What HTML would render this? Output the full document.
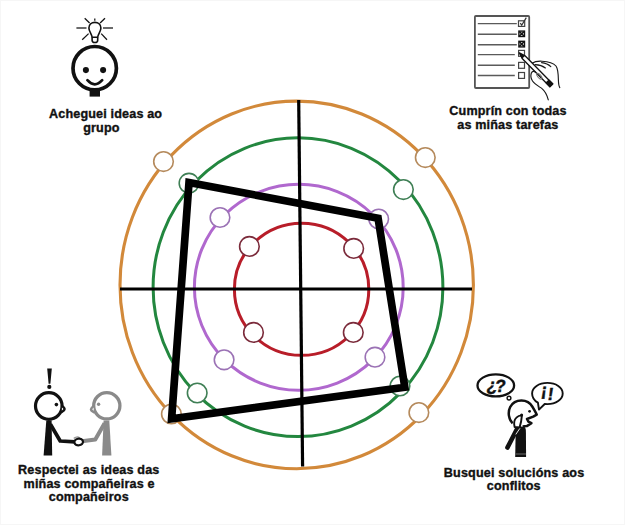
<!DOCTYPE html>
<html><head><meta charset="utf-8">
<style>
html,body{margin:0;padding:0;background:#fff;}
body{width:625px;height:525px;overflow:hidden;position:relative;}
svg{position:absolute;left:0;top:0;}
.t{font-family:"Liberation Sans",sans-serif;font-weight:bold;font-size:12px;letter-spacing:0.15px;fill:#111;stroke:#111;stroke-width:0.35px;}
</style></head><body>
<svg width="625" height="525" viewBox="0 0 625 525">
<!-- faint border -->
<rect x="0.5" y="0.5" width="624" height="524" fill="none" stroke="#f6f6f6" stroke-width="1"/>

<!-- rings -->
<g fill="none">
<ellipse cx="296.7" cy="284.9" rx="176.7" ry="183.8" stroke="#D2893A" stroke-width="3.1"/>
<ellipse cx="298" cy="287.2" rx="144.9" ry="149.4" stroke="#23873F" stroke-width="3"/>
<ellipse cx="298.8" cy="287.3" rx="104.4" ry="103" stroke="#B068CE" stroke-width="3"/>
<ellipse cx="301.6" cy="289.25" rx="67.2" ry="66.1" stroke="#B81D29" stroke-width="3"/>
</g>
<!-- axes -->
<line x1="120" y1="289" x2="472" y2="289" stroke="#000" stroke-width="3"/>
<path d="M298.7 100 L302.6 466.4" stroke="#000" stroke-width="3.2" fill="none"/>

<!-- small circles -->
<g fill="#fff" stroke-width="1.6">
<g stroke="#B58A5C">
<circle cx="163.5" cy="161.6" r="9.8"/>
<circle cx="425.3" cy="157.6" r="9.8"/>
<circle cx="171.4" cy="414" r="9.8"/>
<circle cx="418.9" cy="412.6" r="9.8"/>
</g>
<g stroke="#3F7F55">
<circle cx="189" cy="183.2" r="9.8"/>
<circle cx="403.4" cy="189.6" r="9.8"/>
<circle cx="197.2" cy="393" r="9.8"/>
<circle cx="400" cy="386" r="9.8"/>
</g>
<g stroke="#9B72B5">
<circle cx="220" cy="217.5" r="9.8"/>
<circle cx="378.7" cy="219" r="9.8"/>
<circle cx="224.1" cy="359.8" r="9.8"/>
<circle cx="375" cy="357.2" r="9.8"/>
</g>
<g stroke="#7B2B3B">
<circle cx="249.4" cy="246.4" r="9.8"/>
<circle cx="353.7" cy="248.4" r="9.8"/>
<circle cx="253.5" cy="332.4" r="9.8"/>
<circle cx="353.3" cy="332.4" r="9.8"/>
</g>
</g>

<!-- polygon -->
<path d="M189 182.5 L378.1 218.3 L404.8 387.2 L171.6 418.8 Z" fill="none" stroke="#000" stroke-width="7.7" stroke-linejoin="miter"/>

<!-- texts -->
<text class="t" x="105.6" y="117.8" text-anchor="middle" transform="translate(105.6 0) scale(1.05 1) translate(-105.6 0)">Acheguei ideas ao</text>
<text class="t" x="101.4" y="132" text-anchor="middle" transform="translate(101.4 0) scale(1.05 1) translate(-101.4 0)">grupo</text>
<text class="t" x="508" y="115.4" text-anchor="middle" transform="translate(508 0) scale(1.05 1) translate(-508 0)">Cumprín con todas</text>
<text class="t" x="507.9" y="129.3" text-anchor="middle" transform="translate(507.9 0) scale(1.05 1) translate(-507.9 0)">as miñas tarefas</text>
<text class="t" x="88.8" y="474.5" text-anchor="middle" transform="translate(88.8 0) scale(1.05 1) translate(-88.8 0)">Respectei as ideas das</text>
<text class="t" x="89.1" y="487.8" text-anchor="middle" transform="translate(89.1 0) scale(1.05 1) translate(-89.1 0)">miñas compañeiras e</text>
<text class="t" x="88.8" y="500.6" text-anchor="middle" transform="translate(88.8 0) scale(1.05 1) translate(-88.8 0)">compañeiros</text>
<text class="t" x="514.1" y="476.8" text-anchor="middle" transform="translate(514.1 0) scale(1.05 1) translate(-514.1 0)">Busquei solucións aos</text>
<text class="t" x="513.75" y="489.6" text-anchor="middle" transform="translate(513.75 0) scale(1.05 1) translate(-513.75 0)">conflitos</text>

<!-- ICON 1: bulb + face -->
<g stroke="#111" fill="none" stroke-linecap="butt">
<g stroke-width="1.25">
<line x1="76.4" y1="28" x2="86.5" y2="28"/>
<line x1="103" y1="28" x2="113" y2="28"/>
<line x1="84.7" y1="18.2" x2="89.6" y2="23"/>
<line x1="105" y1="18.2" x2="100.1" y2="23"/>
<line x1="82.2" y1="39.8" x2="88.6" y2="33.6"/>
<line x1="107" y1="39.8" x2="101.2" y2="33.6"/>
<line x1="94.8" y1="18.4" x2="94.8" y2="20.8"/>
</g>
<path d="M92.1 37.2 C91.6 33.6 88.9 31.4 88.9 27.9 C88.9 24.6 91.6 22.4 94.9 22.4 C98.2 22.4 100.9 24.6 100.9 27.9 C100.9 31.4 98.2 33.6 97.7 37.2 Z" stroke-width="1.6"/>
<path d="M92.1 37.4 L92.1 40.2 C92.1 41.9 93.3 42.5 94.9 42.5 C96.5 42.5 97.7 41.9 97.7 40.2 L97.7 37.4" stroke-width="1.6"/>
</g>
<circle cx="94.7" cy="68.2" r="21.7" fill="#fff" stroke="#111" stroke-width="3.7"/>
<rect x="89.6" y="89.8" width="10.4" height="6.8" fill="#111"/>
<circle cx="85.9" cy="70.1" r="3.05" fill="#111"/>
<circle cx="103.1" cy="70.1" r="3.05" fill="#111"/>
<path d="M87.4 80.2 Q94.7 88.4 102.2 80.2" fill="none" stroke="#111" stroke-width="2.7" stroke-linecap="round"/>

<!-- ICON 2: checklist -->
<g fill="none">
<rect x="474.9" y="16" width="54.3" height="72" rx="1" stroke="#555" stroke-width="1.8"/>
<g stroke-width="1.4" stroke="#5a5a5a">
<line x1="477.8" y1="23.6" x2="516.8" y2="23.6"/>
<line x1="477.8" y1="34.2" x2="516.8" y2="34.2"/>
<line x1="477.8" y1="44.7" x2="516.8" y2="44.7"/>
<line x1="477.8" y1="54.6" x2="514.8" y2="54.6"/>
<line x1="477.8" y1="65.2" x2="514.8" y2="65.2"/>
<line x1="477.8" y1="75.5" x2="514.8" y2="75.5"/>
</g>
<g stroke-width="1.2" stroke="#444">
<rect x="518.5" y="20.8" width="6.2" height="5.6"/>
<rect x="518.6" y="50.4" width="5.9" height="5.9"/>
<rect x="518.6" y="62.4" width="5.9" height="5.9"/>
<rect x="518.6" y="72.5" width="5.9" height="5.9"/>
</g>
<path d="M520.3 23.2 L521.7 25.2 L526.3 17.6" stroke="#333" stroke-width="1.2"/>
<g stroke-width="1.5" stroke="#111">
<rect x="518.9" y="31.1" width="5.6" height="5.4" stroke-width="1.4"/>
<rect x="518.9" y="41.3" width="5.6" height="5.6" stroke-width="1.4"/>
<path d="M519.4 31.6 L524 36 M524 31.6 L519.4 36"/>
<path d="M519.4 41.8 L524 46.4 M524 41.8 L519.4 46.4"/>
</g>
</g>
<!-- hand back layer -->
<g fill="none" stroke="#1a1a1a" stroke-width="1.15" stroke-linecap="round">
<path d="M532 63.3 C534.5 61.6 538.5 61 542 61.2 C548 61.5 553 62.5 556 66 C558.2 69 558.3 75 558.4 80 C558.5 84 558.8 86 559.8 87.6"/>
<path d="M535.2 64.6 C539 64.8 542.8 66 545.4 68"/>
<path d="M541.6 62.6 C545.2 63 548.6 64.4 550.8 66.6"/>
</g>
<!-- pen -->
<g transform="translate(519.4 52.9) rotate(45.45)">
<path d="M0 0 L6 -2 L45.5 -2 L45.5 2 L6 2 Z" fill="#fff" stroke="#111" stroke-width="1.3" stroke-linejoin="round"/>
<path d="M0 0 L6 -2.2 L6 2.2 Z" fill="#111"/>
<rect x="39.5" y="-2.6" width="6.5" height="5.2" fill="#111"/>
</g>
<!-- thumb front -->
<g fill="none" stroke="#1a1a1a" stroke-width="1.15" stroke-linecap="round">
<path d="M535.6 72.2 C534 70.8 532 71.2 531.3 73.2 C530.6 75.5 530.8 78.6 532.5 81 C535 84.5 539 86.5 542 88.6 C545 91 547 95 548.3 99.8"/>
<ellipse cx="539.3" cy="76.2" rx="1.6" ry="3.6" transform="rotate(-40 539.3 76.2)" stroke="#777" stroke-width="1"/>
</g>

<!-- ICON 3: handshake -->
<g>
<path d="M47.2 368.6 L51.8 368.6 L50.4 383.8 L48.6 383.8 Z" fill="#111"/>
<circle cx="49.3" cy="386.9" r="2.1" fill="#111"/>
<circle cx="48.8" cy="406" r="13.3" fill="#fff" stroke="#111" stroke-width="3.2"/>
<path d="M62 406 C63.6 407 64.6 408 64.6 409.1 C64.6 410.2 63.4 411.2 61.8 412" fill="#fff" stroke="#111" stroke-width="2.5" stroke-linecap="round"/>
<circle cx="56.4" cy="404.6" r="1.8" fill="#111"/>
<path d="M46.3 420.5 L51.6 420.5 L52.2 455.4 L43.6 455.4 Z" fill="#111"/>
<path d="M50.4 424.2 L60.2 441 L75 441.8" fill="none" stroke="#111" stroke-width="3.7" stroke-linejoin="round"/>

<circle cx="106.8" cy="405.8" r="13.1" fill="#fff" stroke="#8a8a8a" stroke-width="3.3"/>
<path d="M93.6 406.2 C92 407.2 91 408.2 91 409.3 C91 410.4 92.2 411.4 93.8 412.2" fill="#fff" stroke="#8a8a8a" stroke-width="2.5" stroke-linecap="round"/>
<circle cx="98.6" cy="404.3" r="1.7" fill="#8a8a8a"/>
<path d="M103.6 420.5 L109.3 420.5 L111.4 455.4 L102.1 455.4 Z" fill="#8a8a8a"/>
<path d="M104.6 423.2 L95.3 439.4 L82 441.2" fill="none" stroke="#8a8a8a" stroke-width="4" stroke-linejoin="round"/>
<path d="M73.8 438.6 C75.2 437 77.8 436.6 79.6 437.8" fill="none" stroke="#999" stroke-width="1.5"/>
<ellipse cx="78.7" cy="442" rx="4.3" ry="3.3" transform="rotate(-8 78.7 442)" fill="#fff" stroke="#111" stroke-width="2.2"/>
</g>

<!-- ICON 4: thinker -->
<g>
<ellipse cx="495.8" cy="385.4" rx="18.3" ry="11" fill="#fff" stroke="#111" stroke-width="2.3"/>
<circle cx="509" cy="398.1" r="1.9" fill="#fff" stroke="#111" stroke-width="1.4"/>
<g font-family="Liberation Sans" font-weight="bold" font-size="17.5" fill="#111" stroke="#111" stroke-width="0.4">
<text transform="translate(486 390.5) skewX(-7)">¿</text>
<text transform="translate(494.4 391.8) skewX(-7)">?</text>
</g>
<path d="M537.9 402.6 C534 400.3 532.1 397 532.1 393.4 C532.1 387.5 538.9 382.9 547.4 382.9 C555.9 382.9 562.7 387.5 562.7 393.4 C562.7 399.3 555.9 404.1 547.4 404.1 C546.4 404.1 545.5 404.1 544.7 404 L539 409.6 Z" fill="#fff" stroke="#111" stroke-width="1.9" stroke-linejoin="round"/>
<g font-family="Liberation Sans" font-weight="bold" font-size="17.5" fill="#111" stroke="#111" stroke-width="0.4">
<text transform="translate(540.6 396.4) skewX(-8)">¡</text>
<text transform="translate(547 400.2) skewX(-8)">!</text>
</g>

<path d="M519.2 426.6 L524 426.6 C525.3 427.3 525.8 429 525.9 431 L526.1 457 L515.2 457 L515.6 436 Z" fill="#111"/>
<line x1="515.5" y1="454" x2="526" y2="454" stroke="#777" stroke-width="0.9"/>
<path d="M507.4 447.6 L518.4 426.4" stroke="#111" stroke-width="4.5" stroke-linecap="round"/>
<path d="M515.8 434.4 L520 428.2" stroke="#fff" stroke-width="0.9"/>
<path d="M512.6 423.4 C508.6 419.6 507.6 412 510.2 407 C512.6 402.6 516.8 400.6 521.4 400.6 C526.6 400.6 530.4 403.2 532.6 407 C534 409.6 535.8 412.5 536.7 414.6 L533.2 416.6 L527 419 L528.4 421.6 L531.4 423.2 L526.8 426.1 L522.6 426.5" fill="#fff" stroke="#111" stroke-width="2.5" stroke-linejoin="round"/>
<circle cx="529.6" cy="411.3" r="1.4" fill="#111"/>
<path d="M514.6 427 C513.8 423.6 514.2 419.6 516.4 417.6 C518.2 415.8 520.4 415.2 521.9 415.4 C521.6 419.6 520.8 423.8 519.6 427.4 Z" fill="#fff" stroke="#111" stroke-width="1.9" stroke-linejoin="round"/>
<circle cx="521.6" cy="415" r="1.5" fill="#111"/>
</g>
</svg>
</body></html>
